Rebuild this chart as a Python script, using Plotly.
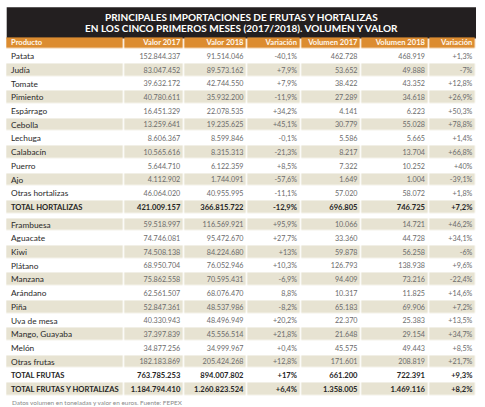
import plotly.graph_objects as go

# ---------------- data ----------------
columnas = ["Producto", "Valor 2017", "Valor 2018", "Variación",
            "Volumen 2017", "Volumen 2018", "Variación"]

hortalizas = ["Patata", "Judía", "Tomate", "Pimiento", "Espárrago", "Cebolla",
              "Lechuga", "Calabacín", "Puerro", "Ajo", "Otras hortalizas",
              "TOTAL HORTALIZAS"]
h_valor_2017 = [152844337, 83047452, 39632172, 40780611, 16451329, 13259641,
                8606367, 10565616, 5644710, 4112902, 46064020, 421009157]
h_valor_2018 = [91514046, 89573162, 42744550, 35932200, 22078535, 19235625,
                8599846, 8315313, 6122359, 1744091, 40955995, 366815722]
h_var_valor = ["-40,1%", "+7,9%", "+7,9%", "-11,9%", "+34,2%", "+45,1%",
               "-0,1%", "-21,3%", "+8,5%", "-57,6%", "-11,1%", "-12,9%"]
h_vol_2017 = [462728, 53652, 38422, 27289, 4141, 30779,
              5586, 8217, 7322, 1649, 57020, 696805]
h_vol_2018 = [468919, 49888, 43352, 34618, 6223, 55028,
              5665, 13704, 10252, 1004, 58072, 746725]
h_var_vol = ["+1,3%", "-7%", "+12,8%", "+26,9%", "+50,3%", "+78,8%",
             "+1,4%", "+66,8%", "+40%", "-39,1%", "+1,8%", "+7,2%"]

frutas = ["Frambuesa", "Aguacate", "Kiwi", "Plátano", "Manzana", "Arándano",
          "Piña", "Uva de mesa", "Mango, Guayaba", "Melón", "Otras frutas",
          "TOTAL FRUTAS", "TOTAL FRUTAS Y HORTALIZAS"]
f_valor_2017 = [59518997, 74746081, 74508138, 68950704, 75862558, 62561507,
                52847361, 40330943, 37397839, 34877256, 182183869,
                763785253, 1184794410]
f_valor_2018 = [116569921, 95472670, 84224680, 76052946, 70595431, 68076470,
                48537986, 48496949, 45556514, 34999967, 205424268,
                894007802, 1260823524]
f_var_valor = ["+95,9%", "+27,7%", "+13%", "+10,3%", "-6,9%", "8,8%",
               "-8,2%", "+20,2%", "+21,8%", "+0,4%", "+12,8%", "+17%", "+6,4%"]
f_vol_2017 = [10066, 33360, 59878, 126793, 94409, 10317, 65183, 22370,
              21648, 45575, 171601, 661200, 1358005]
f_vol_2018 = [14721, 44728, 56258, 138938, 73216, 11825, 69906, 25383,
              29154, 49443, 208819, 722391, 1469116]
f_var_vol = ["+46,2%", "+34,1%", "-6%", "+9,6%", "-22,4%", "+14,6%", "+7,2%",
             "+13,5%", "+34,7%", "+8,5%", "+21,7%", "+9,3%", "+8,2%"]

titulo_1 = "PRINCIPALES IMPORTACIONES DE FRUTAS Y HORTALIZAS"
titulo_2 = "EN LOS CINCO PRIMEROS MESES (2017/2018). VOLUMEN Y VALOR"
nota = "Datos volumen en toneladas y valor en euros. Fuente: FEPEX"

# ---------------- layout / style constants ----------------
W, H = 485, 407
COL_EDGES = [6.3, 124, 184.3, 247.5, 301, 361.5, 429, 476.4]
TITLE_TOP, HEADER_TOP, BODY_TOP = 7.3, 37.4, 49.5
PITCH, GAP, CELL_GAP = 13.72, 3.8, 1.5
PAD_L, PAD_R = 4.7, 4.0
TEXT_DY = 0.7
FONT = "Lato"
C_TITLE, C_HEAD, C_SHADE, C_WHITE = "#231f20", "#dc8c30", "#e7e3d2", "#ffffff"
C_NAME, C_NUM, C_TOTAL = "#2a2a2a", "#6c6c6c", "#262626"


def fmt(v):
    return f"{v:,}".replace(",", ".")


# ---------------- grid of cells ----------------
n_cols = len(columnas)
y_edges = [HEADER_TOP, BODY_TOP]
z = [[2] * n_cols]
y = BODY_TOP
centers = []
for k in range(len(hortalizas)):
    centers.append(y + PITCH / 2)
    y += PITCH
    y_edges.append(y)
    z.append([1 if k % 2 == 1 else 0] * n_cols)
y += GAP
y_edges.append(y)
z.append([0] * n_cols)
for k in range(len(frutas)):
    centers.append(y + PITCH / 2)
    y += PITCH
    y_edges.append(y)
    z.append([1 if k % 2 == 0 else 0] * n_cols)

fig = go.Figure()
fig.add_trace(go.Heatmap(
    z=z, x=COL_EDGES, y=y_edges, zmin=0, zmax=2,
    colorscale=[[0, C_WHITE], [0.5, C_SHADE], [1, C_HEAD]],
    showscale=False, xgap=CELL_GAP, ygap=CELL_GAP, hoverinfo="skip"))

# ---------------- cell text ----------------
nombres = hortalizas + frutas
cols_data = [
    nombres,
    [fmt(v) for v in h_valor_2017 + f_valor_2017],
    [fmt(v) for v in h_valor_2018 + f_valor_2018],
    h_var_valor + f_var_valor,
    [fmt(v) for v in h_vol_2017 + f_vol_2017],
    [fmt(v) for v in h_vol_2018 + f_vol_2018],
    h_var_vol + f_var_vol,
]
is_total = [n.startswith("TOTAL") for n in nombres]
text_y = [c + TEXT_DY for c in centers]

for ci, vals in enumerate(cols_data):
    if ci == 0:
        xa, pos = COL_EDGES[0] + PAD_L, "middle right"
        sizes = [7.6 if t else 8.3 for t in is_total]
        colors = [C_TOTAL if t else C_NAME for t in is_total]
    else:
        xa, pos = COL_EDGES[ci + 1] - PAD_R, "middle left"
        sizes = [7.6 if t else 7.2 for t in is_total]
        colors = [C_TOTAL if t else C_NUM for t in is_total]
    txt = [f"<b>{v}</b>" if t else v for v, t in zip(vals, is_total)]
    fig.add_trace(go.Scatter(
        x=[xa] * len(vals), y=text_y, mode="text", text=txt,
        textposition=pos, textfont=dict(family=FONT, size=sizes, color=colors),
        marker=dict(size=0), hoverinfo="skip", showlegend=False, cliponaxis=False))

# header labels
hx = [COL_EDGES[0] + PAD_L] + [COL_EDGES[i + 1] - PAD_R for i in range(1, n_cols)]
hpos = ["middle right"] + ["middle left"] * (n_cols - 1)
hy = (HEADER_TOP + BODY_TOP) / 2 - 0.9 + TEXT_DY
fig.add_trace(go.Scatter(
    x=hx, y=[hy] * n_cols, mode="text", text=[f"<b>{c}</b>" for c in columnas],
    textposition=hpos, textfont=dict(family=FONT, size=7.6, color="#fff8ee"),
    marker=dict(size=0), hoverinfo="skip", showlegend=False, cliponaxis=False))

# ---------------- title band & note ----------------
fig.add_shape(type="rect", xref="x", yref="y", x0=6.7, x1=476.0,
              y0=TITLE_TOP, y1=HEADER_TOP + 1.0, fillcolor=C_TITLE,
              line=dict(width=0), layer="below")
xc = (6.7 + 476.0) / 2
fig.add_annotation(x=xc, y=17.2, xref="x", yref="y", text=f"<b>{titulo_1}</b>",
                   showarrow=False, xanchor="center", yanchor="middle",
                   font=dict(family=FONT, size=10, color="#ffffff"))
fig.add_annotation(x=xc, y=28.0, xref="x", yref="y", text=f"<b>{titulo_2}</b>",
                   showarrow=False, xanchor="center", yanchor="middle",
                   font=dict(family=FONT, size=10, color="#ffffff"))
fig.add_annotation(x=10, y=402.8, xref="x", yref="y", text=nota,
                   showarrow=False, xanchor="left", yanchor="middle",
                   font=dict(family=FONT, size=6.4, color="#8a8a8a"))

fig.update_layout(
    width=W, height=H, autosize=False,
    margin=dict(l=0, r=0, t=0, b=0, pad=0),
    paper_bgcolor="#ffffff", plot_bgcolor="#ffffff",
    xaxis=dict(range=[0, W], visible=False, fixedrange=True),
    yaxis=dict(range=[H, 0], visible=False, fixedrange=True),
    showlegend=False,
)

fig.write_html("out.html",
               config={"displayModeBar": False, "staticPlot": True},
               post_script="document.body.style.margin='0px';"
                           "document.body.style.overflow='hidden';")
